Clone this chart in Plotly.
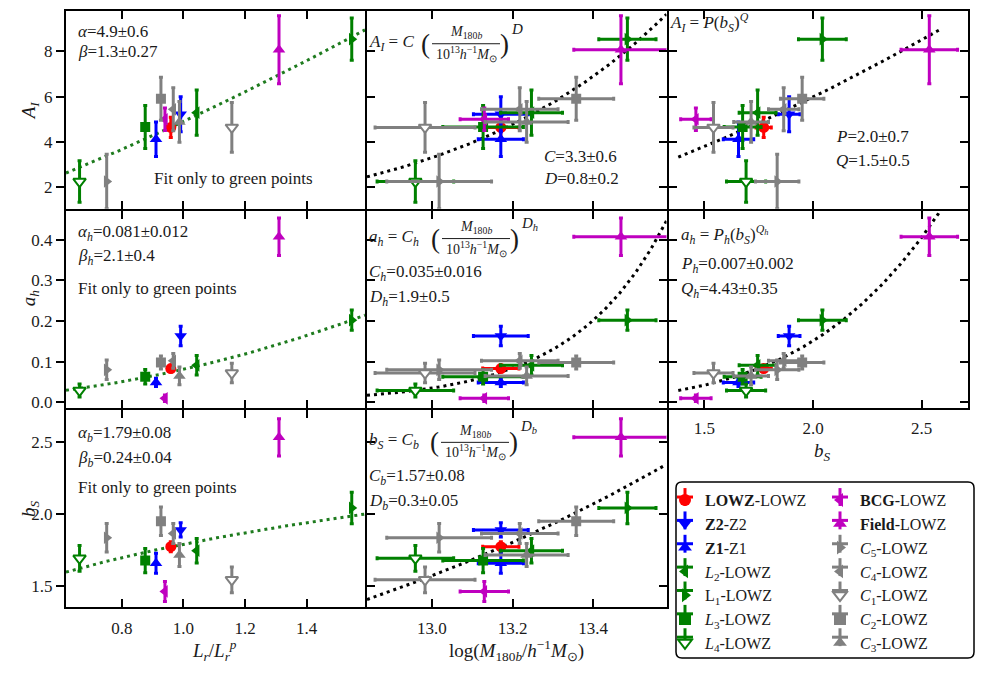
import numpy as np
import plotly.graph_objects as go

W, H = 991, 673
FONT = "Liberation Serif"
TXT = "#1a1a1a"
LW = 2  # frame line width

# ---------------- data ----------------
series = ["LOWZ", "Z2", "Z1", "L2", "L1", "L3", "L4",
          "BCG", "Field", "C5", "C4", "C1", "C2", "C3"]
legend_labels = ["<b>LOWZ</b>-LOWZ", "<b>Z2</b>-Z2", "<b>Z1</b>-Z1",
                 "<i>L</i><sub>2</sub>-LOWZ", "L<sub>1</sub>-LOWZ",
                 "<i>L</i><sub>3</sub>-LOWZ", "<i>L</i><sub>4</sub>-LOWZ",
                 "<b>BCG</b>-LOWZ", "<b>Field</b>-LOWZ",
                 "<i>C</i><sub>5</sub>-LOWZ", "<i>C</i><sub>4</sub>-LOWZ",
                 "<i>C</i><sub>1</sub>-LOWZ", "<i>C</i><sub>2</sub>-LOWZ",
                 "<i>C</i><sub>3</sub>-LOWZ"]
colors = ["#ff0000", "#0000ff", "#0000ff", "#008000", "#008000", "#008000", "#008000",
          "#bf00bf", "#bf00bf", "#808080", "#808080", "#808080", "#808080", "#808080"]
symbols = ["circle", "triangle-down", "triangle-up", "triangle-left", "triangle-right",
           "square", "triangle-down", "triangle-left", "triangle-up",
           "triangle-right", "triangle-left", "triangle-down", "square", "triangle-up"]
hollow = [False, False, False, False, False, False, True,
          False, False, False, False, True, False, False]

lr = [0.959, 0.991, 0.911, 1.043, 1.546, 0.876, 0.663, 0.940, 1.310, 0.751, 0.967, 1.157, 0.927, 0.987]
logm = [13.171, 13.171, 13.171, 13.247, 13.485, 13.127, 12.959, 13.130, 13.469, 13.018, 13.218, 12.983, 13.358, 13.235]
logm_err = [0.045, 0.068, 0.056, 0.077, 0.071, 0.100, 0.095, 0.060, 0.117, 0.130, 0.095, 0.124, 0.093, 0.103]
bs = [1.773, 1.890, 1.657, 1.745, 2.043, 1.676, 1.692, 1.461, 2.535, 1.835, 1.865, 1.542, 1.950, 1.715]
bs_err = [0.035, 0.050, 0.070, 0.085, 0.110, 0.085, 0.090, 0.070, 0.130, 0.100, 0.070, 0.090, 0.100, 0.080]
ai = [4.64, 5.22, 4.12, 5.29, 8.54, 4.66, 2.25, 5.00, 8.07, 2.25, 5.44, 4.64, 5.91, 4.88]
ai_err = [0.45, 0.77, 0.76, 1.00, 0.93, 0.95, 0.92, 0.50, 1.50, 1.20, 0.95, 1.10, 0.95, 0.90]
ah = [0.083, 0.163, 0.049, 0.091, 0.202, 0.063, 0.029, 0.010, 0.407, 0.080, 0.102, 0.072, 0.098, 0.065]
ah_err = [0.008, 0.024, 0.010, 0.024, 0.025, 0.018, 0.016, 0.008, 0.046, 0.024, 0.018, 0.024, 0.016, 0.022]

# fit-curve parameters (as drawn)
fit_lr = {"AI": (4.9, 1.3), "ah": (0.081, 2.1), "bs": (1.79, 0.24)}
fit_m = {"AI": (3.3, 0.8), "ah": (0.035, 1.9), "bs": (1.57, 0.3)}
fit_b = {"AI": (2.0, 1.58), "ah": (0.007, 4.43)}
fit_b_span = (1.38, 2.70)

x_ticks = [[0.8, 1.0, 1.2, 1.4], [13.0, 13.2, 13.4], [1.5, 2.0, 2.5]]
x_ticktext = [["0.8", "1.0", "1.2", "1.4"], ["13.0", "13.2", "13.4"], ["1.5", "2.0", "2.5"]]
y_ticks = [[2, 4, 6, 8], [0.0, 0.1, 0.2, 0.3, 0.4], [1.5, 2.0, 2.5]]
y_ticktext = [["2", "4", "6", "8"], ["0.0", "0.1", "0.2", "0.3", "0.4"], ["1.5", "2.0", "2.5"]]

# ---------------- layout geometry (frame-line centres, px) ----------------
col_px = [(65, 366), (366, 667.5), (667.5, 969)]
row_px = [(10, 211), (211, 411.5), (411.5, 612)]
x_ranges = [[0.619, 1.589], [12.839, 13.582], [1.335, 2.713]]
y_ranges = [[1.047, 9.786], [-0.014, 0.471], [1.35, 2.725]]

panels = [(r, c) for r in range(3) for c in range(3) if not (r == 2 and c == 2)]

x_data = [lr, logm, bs]
x_err = [None, logm_err, bs_err]
y_data = [ai, ah, bs]
y_err = [ai_err, ah_err, bs_err]
fit_keys = ["AI", "ah", "bs"]

fig = go.Figure()
layout = dict(width=W, height=H, margin=dict(l=0, r=0, t=0, b=0),
              paper_bgcolor="white", plot_bgcolor="white", showlegend=True)
h = LW / 2

for k, (r, c) in enumerate(panels, start=1):
    xa = "xaxis" if k == 1 else f"xaxis{k}"
    ya = "yaxis" if k == 1 else f"yaxis{k}"
    xr, yr = f"x{'' if k == 1 else k}", f"y{'' if k == 1 else k}"
    show_xlab = (r == 2) or (r == 1 and c == 2)
    layout[xa] = dict(domain=[(col_px[c][0] + h) / W, (col_px[c][1] - h) / W], range=x_ranges[c],
                      anchor=yr, tickvals=x_ticks[c], ticktext=x_ticktext[c],
                      showticklabels=show_xlab, ticks="inside",
                      ticklen=8, tickwidth=2, tickcolor="black", showline=True,
                      linecolor="black", linewidth=LW, mirror="ticks", showgrid=False,
                      zeroline=False, ticklabelstandoff=4,
                      tickfont=dict(family=FONT, size=17, color=TXT))
    layout[ya] = dict(domain=[1 - (row_px[r][1] - h) / H, 1 - (row_px[r][0] + h) / H], range=y_ranges[r],
                      anchor=xr, tickvals=y_ticks[r], ticktext=y_ticktext[r],
                      showticklabels=(c == 0), ticks="outside" if c == 0 else "inside",
                      ticklen=8, tickwidth=2, tickcolor="black", showline=True,
                      linecolor="black", linewidth=LW, mirror="ticks", showgrid=False,
                      zeroline=False, tickfont=dict(family=FONT, size=17, color=TXT))

    # fit curves
    if c == 0:
        a, b = fit_lr[fit_keys[r]]
        xs = np.linspace(x_ranges[0][0], x_ranges[0][1], 120)
        fig.add_trace(go.Scatter(x=xs, y=a * xs ** b, mode="lines", xaxis=xr, yaxis=yr,
                                 line=dict(color="#1e7b1e", width=3, dash="3px,4px"),
                                 showlegend=False, hoverinfo="skip"))
    elif c == 1:
        a, b = fit_m[fit_keys[r]]
        xs = np.linspace(x_ranges[1][0], x_ranges[1][1], 160)
        fig.add_trace(go.Scatter(x=xs, y=a * (10 ** (xs - 13.0)) ** b, mode="lines",
                                 xaxis=xr, yaxis=yr,
                                 line=dict(color="black", width=3, dash="3px,4px"),
                                 showlegend=False, hoverinfo="skip"))
    else:
        a, b = fit_b[fit_keys[r]]
        hi = fit_b_span[1] if r == 1 else 2.58
        xs = np.linspace(fit_b_span[0], hi, 120)
        fig.add_trace(go.Scatter(x=xs, y=a * xs ** b, mode="lines", xaxis=xr, yaxis=yr,
                                 line=dict(color="black", width=3, dash="3px,4px"),
                                 showlegend=False, hoverinfo="skip"))

    for j in range(len(series)):
        ex = None
        if x_err[c] is not None:
            ex = dict(type="data", array=[x_err[c][j]], color=colors[j], thickness=3, width=2)
        ey = dict(type="data", array=[y_err[r][j]], color=colors[j], thickness=3, width=2)
        mk = dict(symbol=symbols[j], size=11 if symbols[j] != "square" else 10,
                  color="white" if hollow[j] else colors[j],
                  line=dict(color=colors[j], width=2 if hollow[j] else 0))
        fig.add_trace(go.Scatter(
            x=[x_data[c][j]], y=[y_data[r][j]], mode="markers", marker=mk,
            error_x=ex, error_y=ey, xaxis=xr, yaxis=yr, name=legend_labels[j],
            showlegend=(k == 1), legend="legend" if j < 7 else "legend2",
            hoverinfo="skip"))

LEG_X = [665, 820]
leg_common = dict(bgcolor="rgba(0,0,0,0)", borderwidth=0, xanchor="left", yanchor="top",
                  font=dict(family=FONT, size=16, color=TXT), tracegroupgap=0,
                  itemsizing="constant", itemwidth=30)
layout["legend"] = dict(x=LEG_X[0] / W, y=1 - 486 / H, **leg_common)
layout["legend2"] = dict(x=LEG_X[1] / W, y=1 - 486 / H, **leg_common)

# ---------------- annotations ----------------
ann = []
shapes = []


def T(x, y, text, size=17, xanchor="left", yanchor="middle", angle=0):
    ann.append(dict(x=x / W, y=1 - y / H, xref="paper", yref="paper", text=text,
                    showarrow=False, xanchor=xanchor, yanchor=yanchor, textangle=angle,
                    font=dict(family=FONT, size=size, color=TXT)))


def power_formula(x0, y0, lhs, exp, fcx):
    T(x0, y0, lhs, size=17)
    T(fcx - 41, y0 + 1, "(", size=27, xanchor="center")
    T(fcx + 38, y0 + 1, ")", size=27, xanchor="center")
    T(fcx, y0 - 10, "<i>M</i><sub>180<i>b</i></sub>", size=14, xanchor="center")
    T(fcx, y0 + 11, "10<sup>13</sup><i>h</i><sup>−1</sup><i>M</i><sub>⊙</sub>", size=14, xanchor="center")
    shapes.append(dict(type="line", xref="paper", yref="paper",
                       x0=(fcx - 34) / W, x1=(fcx + 34) / W,
                       y0=1 - (y0 + 1) / H, y1=1 - (y0 + 1) / H,
                       line=dict(color=TXT, width=1)))
    T(fcx + 43, y0 - 14, exp, size=15)


# top row
T(76, 32, "<i>α</i>=4.9±0.6")
T(76, 52, "<i>β</i>=1.3±0.27")
T(152, 180, "Fit only to green points")
power_formula(367, 43, "<i>A<sub>I</sub></i> = <i>C</i>", "<i>D</i>", 466)
T(542, 157, "<i>C</i>=3.3±0.6")
T(542, 180, "<i>D</i>=0.8±0.2")
T(668, 23, "<i>A<sub>I</sub></i> = <i>P</i>(<i>b<sub>S</sub></i>)<sup><i>Q</i></sup>")
T(834, 137, "<i>P</i>=2.0±0.7")
T(834, 161, "<i>Q</i>=1.5±0.5")
# middle row
T(76, 234, "<i>α<sub>h</sub></i>=0.081±0.012")
T(76, 259, "<i>β<sub>h</sub></i>=2.1±0.4")
T(76, 290, "Fit only to green points")
power_formula(367, 239, "<i>a<sub>h</sub></i> = <i>C<sub>h</sub></i>", "<i>D<sub>h</sub></i>", 476)
T(367, 275, "<i>C<sub>h</sub></i>=0.035±0.016")
T(367, 300, "<i>D<sub>h</sub></i>=1.9±0.5")
T(679, 236, "<i>a<sub>h</sub></i> = <i>P<sub>h</sub></i>(<i>b<sub>S</sub></i>)<sup><i>Q<sub>h</sub></i></sup>")
T(679, 267, "<i>P<sub>h</sub></i>=0.007±0.002")
T(679, 292, "<i>Q<sub>h</sub></i>=4.43±0.35")
# bottom row
T(76, 437, "<i>α<sub>b</sub></i>=1.79±0.08")
T(76, 462, "<i>β<sub>b</sub></i>=0.24±0.04")
T(76, 490, "Fit only to green points")
power_formula(367, 444, "<i>b<sub>S</sub></i> = <i>C<sub>b</sub></i>", "<i>D<sub>b</sub></i>", 475)
T(367, 480, "<i>C<sub>b</sub></i>=1.57±0.08")
T(367, 505, "<i>D<sub>b</sub></i>=0.3±0.05")

# axis titles
T(30, 112, "<i>A<sub>I</sub></i>", size=19, xanchor="center", angle=-90)
T(30, 300, "<i>a<sub>h</sub></i>", size=19, xanchor="center", angle=-90)
T(30, 512, "<i>b<sub>S</sub></i>", size=19, xanchor="center", angle=-90)
T(214, 654, "<i>L<sub>r</sub></i>/<i>L<sub>r</sub><sup>p</sup></i>", size=19, xanchor="center")
T(516, 654, "log(<i>M</i><sub>180<i>b</i></sub>/<i>h</i><sup>−1</sup><i>M</i><sub>⊙</sub>)", size=19, xanchor="center")
T(822, 455, "<i>b<sub>S</sub></i>", size=19, xanchor="center")

# legend frame with rounded corners
lx0, lx1, ly0, ly1, rad = 676, 974, 485, 662, 6


def P(x, y):
    return f"{x / W:.5f},{1 - y / H:.5f}"


frame_path = (f"M {P(lx0 + rad, ly0)} L {P(lx1 - rad, ly0)} Q {P(lx1, ly0)} {P(lx1, ly0 + rad)} "
              f"L {P(lx1, ly1 - rad)} Q {P(lx1, ly1)} {P(lx1 - rad, ly1)} "
              f"L {P(lx0 + rad, ly1)} Q {P(lx0, ly1)} {P(lx0, ly1 - rad)} "
              f"L {P(lx0, ly0 + rad)} Q {P(lx0, ly0)} {P(lx0 + rad, ly0)} Z")
shapes.append(dict(type="path", xref="paper", yref="paper", path=frame_path,
                   line=dict(color="black", width=1.5), fillcolor="white", layer="below"))

# error-bar crosses behind the legend symbols
leg_rows = [500, 523.5, 547, 570.5, 594, 617.5, 641]
for j in range(len(series)):
    cx = (LEG_X[0] if j < 7 else LEG_X[1]) + 20
    cy = leg_rows[j % 7]
    for (dx, dy) in [(8, 0), (0, 9)]:
        shapes.append(dict(type="line", xref="paper", yref="paper",
                           x0=(cx - dx) / W, x1=(cx + dx) / W,
                           y0=1 - (cy - dy) / H, y1=1 - (cy + dy) / H,
                           line=dict(color=colors[j], width=3), layer="above"))

layout["annotations"] = ann
layout["shapes"] = shapes
fig.update_layout(**layout)
fig.write_html("out.html", config={"displayModeBar": False},
               post_script="document.body.style.margin='0px';")
